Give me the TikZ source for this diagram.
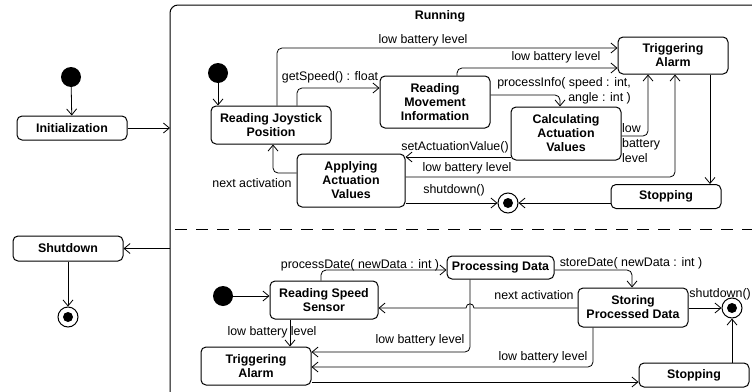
\documentclass[tikz,border=0pt]{standalone}
\usepackage{fontspec}
\setmainfont{Liberation Sans}
\usetikzlibrary{arrows.meta,calc}
\begin{document}
\begin{tikzpicture}[x=1pt,y=-1pt,
  state/.style={draw, rounded corners=5pt, line width=1pt, font=\fontsize{12.4}{14}\selectfont\bfseries, align=center, inner sep=0pt},
  lbl/.style={inner sep=0pt, font=\fontsize{12.4}{15}\selectfont},
  conn/.style={line width=0.8pt, -{Straight Barb[length=6pt,width=10pt]}},
  initdot/.style={circle, fill=black, minimum size=20pt, inner sep=0pt},
  finaldot/.style={circle, draw, line width=1pt, minimum size=20pt, inner sep=0pt, path picture={\fill (path picture bounding box.center) circle (5pt);}},
]
\useasboundingbox (0,0) rectangle (752,391);
\clip (0,0) rectangle (752,391);

% composite state frame
\draw[line width=1pt, rounded corners=8pt] (170,420) -- (170,5) -- (780,5);
\draw[line width=0.8pt, dash pattern=on 12pt off 9pt] (175,229) -- (752,229);
\node[inner sep=0pt, font=\fontsize{12.4}{14}\selectfont\bfseries] (runlbl) at (440,16) {Running};
\coordinate (rl1) at (170,128);
\coordinate (rl2) at (170,248.5);

% outer states
\node[initdot] (i0) at (71,77) {};
\node[state, minimum width=110pt, minimum height=24pt] (init) at (72,128) {Initialization};
\node[state, minimum width=110pt, minimum height=25pt] (shut) at (68,248.5) {Shutdown};
\node[finaldot] (f0) at (68,317) {};

\draw[conn] (i0) -- (init);
\draw[conn] (init.east) -- (rl1);
\draw[conn] (rl2) -- (shut.east);
\draw[conn] (shut) -- (f0);

% upper region
\node[initdot] (i1) at (218,73) {};
\node[state, minimum width=120pt, minimum height=38pt] (rjp) at (271,125) {Reading Joystick\\Position};
\node[state, minimum width=110pt, minimum height=52pt] (rmi) at (435,102) {Reading\\Movement\\Information};
\node[state, minimum width=110pt, minimum height=37pt] (ta1) at (673,55.5) {Triggering\\Alarm};
\node[state, minimum width=110pt, minimum height=53pt] (cav) at (566,133.5) {Calculating\\Actuation\\Values};
\node[state, minimum width=108pt, minimum height=53pt] (aav) at (351,180.5) {Applying\\Actuation\\Values};
\node[state, minimum width=110pt, minimum height=24pt] (stop1) at (666,196.5) {Stopping};
\node[finaldot] (f1) at (508,203) {};

\draw[conn] (i1) -- (i1 |- rjp.north);
\draw[conn, rounded corners=5pt] ([xshift=26pt]rjp.north) |- ([yshift=14pt]rmi.west);
\draw[conn, rounded corners=5pt] ([xshift=6pt]rjp.north) |- ([yshift=7.5pt]ta1.west);
\draw[conn, rounded corners=5pt] ([xshift=22pt]rmi.north) |- ([yshift=-12.5pt]ta1.west);
\draw[conn, rounded corners=5pt] ([yshift=7pt]rmi.east) -| ([xshift=-6pt]cav.north);
\draw[conn, rounded corners=5pt] ([yshift=-2.5pt]cav.east) -| ([xshift=-25pt]ta1.south);
\draw[conn] ([yshift=-23.5pt]cav.west) -- ([yshift=-23.5pt]cav.west -| aav.east);
\draw[conn, rounded corners=5pt] ([yshift=3.5pt]aav.east) -| ([xshift=2pt]ta1.south);
\draw[conn] (aav.east |- f1) -- (f1.west);
\draw[conn] (stop1.west |- f1) -- (f1.east);
\draw[conn] ([xshift=37pt]ta1.south) -- ([xshift=37pt]ta1.south |- stop1.north);
\draw[conn, rounded corners=5pt] ([yshift=7.5pt]aav.west) -| ([xshift=2pt]rjp.south);

\node[lbl] (l1) at (423,40) {low battery level};
\node[lbl] (l2) at (330,77) {getSpeed() : float};
\node[lbl] (l3) at (556,57) {low battery level};
\node[lbl, anchor=east, align=right] (l4) at (631,91) {processInfo( speed : int,\\angle : int )};
\node[lbl, anchor=west, align=left] (l5) at (622,143.5) {low\\battery\\level};
\node[lbl] (l6) at (455,147) {setActuationValue()};
\node[lbl] (l7) at (467,168) {low battery level};
\node[lbl] (l8) at (454,190) {shutdown()};
\node[lbl] (l9) at (252,183) {next activation};

% lower region
\node[initdot] (i2) at (223,296) {};
\node[state, minimum width=108pt, minimum height=38pt] (rss) at (324,300) {Reading Speed\\Sensor};
\node[state, minimum width=107pt, minimum height=23pt] (pd) at (500.5,267.5) {Processing Data};
\node[state, minimum width=110pt, minimum height=39pt] (spd) at (633,307.5) {Storing\\Processed Data};
\node[state, minimum width=110pt, minimum height=38pt] (ta2) at (256,366) {Triggering\\Alarm};
\node[state, minimum width=110pt, minimum height=24pt] (stop2) at (694,375) {Stopping};
\node[finaldot] (f2) at (732,308) {};
\coordinate (hop) at (470,308);

\draw[conn] (i2) -- (i2 -| rss.west);
\draw[conn, rounded corners=5pt] ([xshift=-3pt]rss.north) |- ([yshift=-2.5pt]pd.west);
\draw[conn, rounded corners=5pt] ([yshift=-2.5pt]pd.east) -| ([xshift=-1pt]spd.north);
\draw[conn] (spd.east |- f2) -- (f2.west);
\draw[conn] (stop2.north -| f2) -- (f2.south);
\draw[conn] (spd.west |- hop) -- ([xshift=4pt]hop) .. controls ([xshift=4pt,yshift=5.5pt]hop) and ([xshift=-4pt,yshift=5.5pt]hop) .. ([xshift=-4pt]hop) -- (rss.east |- hop);
\draw[conn, rounded corners=5pt] ([xshift=-30.5pt]pd.south) |- ([yshift=14pt]ta2.east);
\draw[conn, rounded corners=5pt] ([xshift=-40pt]spd.south) |- ([yshift=-1pt]ta2.east);
\draw[conn] ([yshift=-16pt]ta2.east) -- ([yshift=-16pt]ta2.east -| stop2.west);
\draw[conn] ([xshift=-34pt]rss.south) -- ([xshift=-34pt]rss.south |- ta2.north);

\node[lbl] (m1) at (360,265) {processDate( newData : int )};
\node[lbl] (m2) at (631,263) {storeDate( newData : int )};
\node[lbl, anchor=east] (m3) at (751,294) {shutdown()};
\node[lbl] (m4) at (534,295) {next activation};
\node[lbl] (m5) at (420,340) {low battery level};
\node[lbl] (m6) at (543,357) {low battery level};
\node[lbl] (m7) at (272,332) {low battery level};
\end{tikzpicture}
\end{document}
